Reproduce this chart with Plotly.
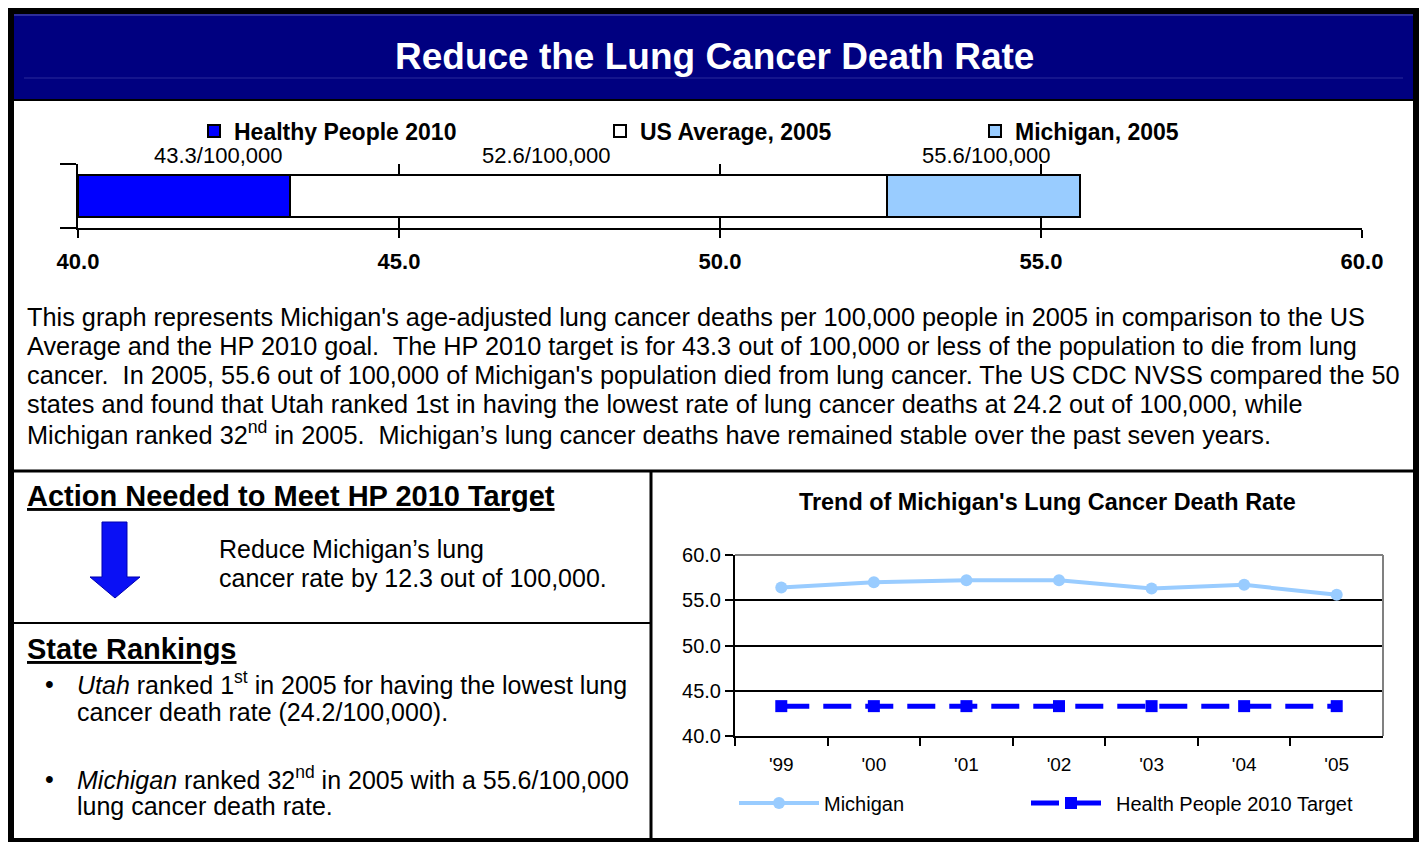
import plotly.graph_objects as go

# ---------------- data ----------------
bar_names = ["Healthy People 2010", "US Average, 2005", "Michigan, 2005"]
bar_values = [43.3, 52.6, 55.6]
bar_axis_start = 40.0
bar_ticks = [40.0, 45.0, 50.0, 55.0, 60.0]

trend_years = ["'99", "'00", "'01", "'02", "'03", "'04", "'05"]
trend_michigan = [56.4, 57.0, 57.2, 57.2, 56.3, 56.7, 55.6]
trend_hp_target = [43.3, 43.3, 43.3, 43.3, 43.3, 43.3, 43.3]
trend_ticks = [40.0, 45.0, 50.0, 55.0, 60.0]

# ---------------- geometry helpers ----------------
# the page body has an 8px margin, so the figure is drawn 8px in from the window corner
OFF = 8
W, H = 1427 - OFF, 842 - OFF
FONT = "Liberation Sans, Arial, sans-serif"


def X(px):
    return (px - OFF) / W


def Y(py):
    return 1 - (py - OFF) / H


bar_fill = ["#0000FF", "#FFFFFF", "#99CCFF"]
bar_legends = ["legend", "legend3", "legend4"]

fig = go.Figure()

# ---- top stacked horizontal bar ----
prev = bar_axis_start
for name, val, col, lg in zip(bar_names, bar_values, bar_fill, bar_legends):
    fig.add_trace(go.Bar(
        x=[round(val - prev, 4)], base=[prev], y=[0.5], width=0.66,
        orientation="h", name=name,
        marker=dict(color=col, line=dict(color="black", width=2)),
        xaxis="x", yaxis="y", legend=lg, hoverinfo="skip",
    ))
    prev = val

# ---- trend lines ----
fig.add_trace(go.Scatter(
    x=trend_years, y=trend_michigan, mode="lines+markers", name="Michigan",
    line=dict(color="#99CCFF", width=4),
    marker=dict(symbol="circle", size=12, color="#99CCFF"),
    xaxis="x2", yaxis="y2", legend="legend2",
))
fig.add_trace(go.Scatter(
    x=trend_years, y=trend_hp_target, mode="lines+markers",
    name="Health People 2010 Target",
    line=dict(color="#0000FF", width=5, dash="28px,14px"),
    marker=dict(symbol="square", size=12, color="#0000FF"),
    xaxis="x2", yaxis="y2", legend="legend5",
))

shapes = []
# outer black frame + white inner
shapes.append(dict(type="rect", xref="paper", yref="paper", x0=X(6), x1=X(1420), y0=Y(842), y1=Y(6),
                   fillcolor="black", line=dict(width=0), layer="below"))
shapes.append(dict(type="rect", xref="paper", yref="paper", x0=X(14), x1=X(1413), y0=Y(838), y1=Y(14),
                   fillcolor="white", line=dict(width=0), layer="below"))
# navy title bar
shapes.append(dict(type="rect", xref="paper", yref="paper", x0=X(14), x1=X(1413), y0=Y(99), y1=Y(14),
                   fillcolor="#000080", line=dict(width=0), layer="below"))
shapes.append(dict(type="line", xref="paper", yref="paper", x0=X(14), x1=X(1413), y0=Y(15), y1=Y(15),
                   line=dict(color="#5a5ab0", width=1), layer="below"))
shapes.append(dict(type="line", xref="paper", yref="paper", x0=X(24), x1=X(1403), y0=Y(78), y1=Y(78),
                   line=dict(color="#2a2a9a", width=1), layer="below"))
shapes.append(dict(type="line", xref="paper", yref="paper", x0=X(14), x1=X(1413), y0=Y(100), y1=Y(100),
                   line=dict(color="black", width=2), layer="below"))
# section dividers
shapes.append(dict(type="line", xref="paper", yref="paper", x0=X(14), x1=X(1413), y0=Y(471), y1=Y(471),
                   line=dict(color="black", width=3)))
shapes.append(dict(type="line", xref="paper", yref="paper", x0=X(651), x1=X(651), y0=Y(471), y1=Y(838),
                   line=dict(color="black", width=3)))
shapes.append(dict(type="line", xref="paper", yref="paper", x0=X(14), x1=X(651), y0=Y(623), y1=Y(623),
                   line=dict(color="black", width=2)))
# down arrow
pts = [(102, 522), (127, 522), (127, 577), (140, 577), (115, 598), (90, 577), (102, 577)]
path = "M " + " L ".join(f"{X(a):.5f},{Y(b):.5f}" for a, b in pts) + " Z"
shapes.append(dict(type="path", xref="paper", yref="paper", path=path,
                   fillcolor="#0A10F5", line=dict(color="#0000B0", width=1)))
# trend plot gray top/right border
shapes.append(dict(type="line", xref="x2 domain", yref="y2 domain", x0=0, x1=1, y0=1, y1=1,
                   line=dict(color="#808080", width=2)))
shapes.append(dict(type="line", xref="x2 domain", yref="y2 domain", x0=1, x1=1, y0=0, y1=1,
                   line=dict(color="#808080", width=2)))

ann = []


def txt(x, y, text, size, anchor="left", color="black", bold=False):
    ann.append(dict(xref="paper", yref="paper", x=X(x), y=Y(y), text=text, showarrow=False,
                    xanchor=anchor, yanchor="middle", align="left",
                    font=dict(family=FONT, size=size, color=color, weight=700 if bold else 400)))


txt(714, 57, "Reduce the Lung Cancer Death Rate", 37, anchor="center", color="white", bold=True)

# value labels above bar
for cx, v in zip([218, 546, 986], bar_values):
    txt(cx, 155, f"{v}/100,000", 22, anchor="center")

para = [
    "This graph represents Michigan's age-adjusted lung cancer deaths per 100,000 people in 2005 in comparison to the US",
    "Average and the HP 2010 goal.  The HP 2010 target is for 43.3 out of 100,000 or less of the population to die from lung",
    "cancer.  In 2005, 55.6 out of 100,000 of Michigan's population died from lung cancer. The US CDC NVSS compared the 50",
    "states and found that Utah ranked 1st in having the lowest rate of lung cancer deaths at 24.2 out of 100,000, while",
    "Michigan ranked 32<sup>nd</sup> in 2005.  Michigan\u2019s lung cancer deaths have remained stable over the past seven years.",
]
for i, line in enumerate(para):
    txt(25, 317 + 29 * i, line, 25.3)

txt(25, 496, "<u>Action Needed to Meet HP 2010 Target</u>", 29, bold=True)
txt(217, 549, "Reduce Michigan\u2019s lung", 25)
txt(217, 578, "cancer rate by 12.3 out of 100,000.", 25)
txt(25, 649, "<u>State Rankings</u>", 29, bold=True)
txt(43, 684, "\u2022", 25)
txt(75, 683, "<i>Utah</i> ranked 1<sup>st</sup> in 2005 for having the lowest lung", 25)
txt(75, 712, "cancer death rate (24.2/100,000).", 25)
txt(43, 779, "\u2022", 25)
txt(75, 778, "<i>Michigan</i> ranked 32<sup>nd</sup> in 2005 with a 55.6/100,000", 25)
txt(75, 806, "lung cancer death rate.", 25)

txt(1047, 502, "Trend of Michigan's Lung Cancer Death Rate", 23.4, anchor="center", bold=True)


def top_legend(text_x):
    return dict(orientation="h", x=X(text_x - 40), y=Y(131), xanchor="left", yanchor="middle",
                bgcolor="rgba(0,0,0,0)", font=dict(size=23, weight=700, family=FONT))


def trend_legend(text_x):
    return dict(orientation="h", x=X(text_x - 90), y=Y(803), xanchor="left", yanchor="middle",
                bgcolor="rgba(0,0,0,0)", font=dict(size=20, family=FONT), itemwidth=80)


fig.update_layout(
    width=W, height=H, margin=dict(l=0, r=0, t=0, b=0, autoexpand=False),
    paper_bgcolor="white", plot_bgcolor="rgba(0,0,0,0)",
    showlegend=True, barmode="overlay", bargap=0,
    font=dict(family=FONT, color="black"),
    shapes=shapes, annotations=ann,
    xaxis=dict(domain=[X(78), X(1362)], range=[40, 60], tickvals=bar_ticks,
               ticktext=[f"{t:.1f}" for t in bar_ticks],
               tickfont=dict(size=22, weight=700), ticks="outside", ticklen=8, tickwidth=2,
               tickcolor="black", showline=True, linecolor="black", linewidth=2,
               showgrid=True, gridcolor="black", gridwidth=2, zeroline=False,
               ticklabelstandoff=5, anchor="y", fixedrange=True),
    yaxis=dict(domain=[Y(228), Y(164)], range=[0, 1], tickvals=[0, 1], showticklabels=False,
               ticks="outside", ticklen=16, tickwidth=2, tickcolor="black",
               showline=True, linecolor="black", linewidth=2, showgrid=False,
               zeroline=False, anchor="x", fixedrange=True),
    xaxis2=dict(domain=[X(735), X(1383)], type="category", range=[-0.5, 6.5],
                tickson="boundaries", ticks="outside", ticklen=8, tickwidth=1.5,
                tickcolor="black", showline=True, linecolor="black", linewidth=2,
                showgrid=False, tickfont=dict(size=19), anchor="y2", ticklabelstandoff=10),
    yaxis2=dict(domain=[Y(736), Y(555)], range=[40, 60], tickvals=trend_ticks,
                tickformat=".1f", ticks="outside", ticklen=8, tickwidth=1.5, tickcolor="black",
                showline=True, linecolor="black", linewidth=2, showgrid=True,
                gridcolor="black", gridwidth=1.5, zeroline=False, tickfont=dict(size=20),
                anchor="x2"),
    legend=top_legend(234),
    legend3=top_legend(640),
    legend4=top_legend(1015),
    legend2=trend_legend(824),
    legend5=trend_legend(1116),
)

fig.write_html("out.html")
